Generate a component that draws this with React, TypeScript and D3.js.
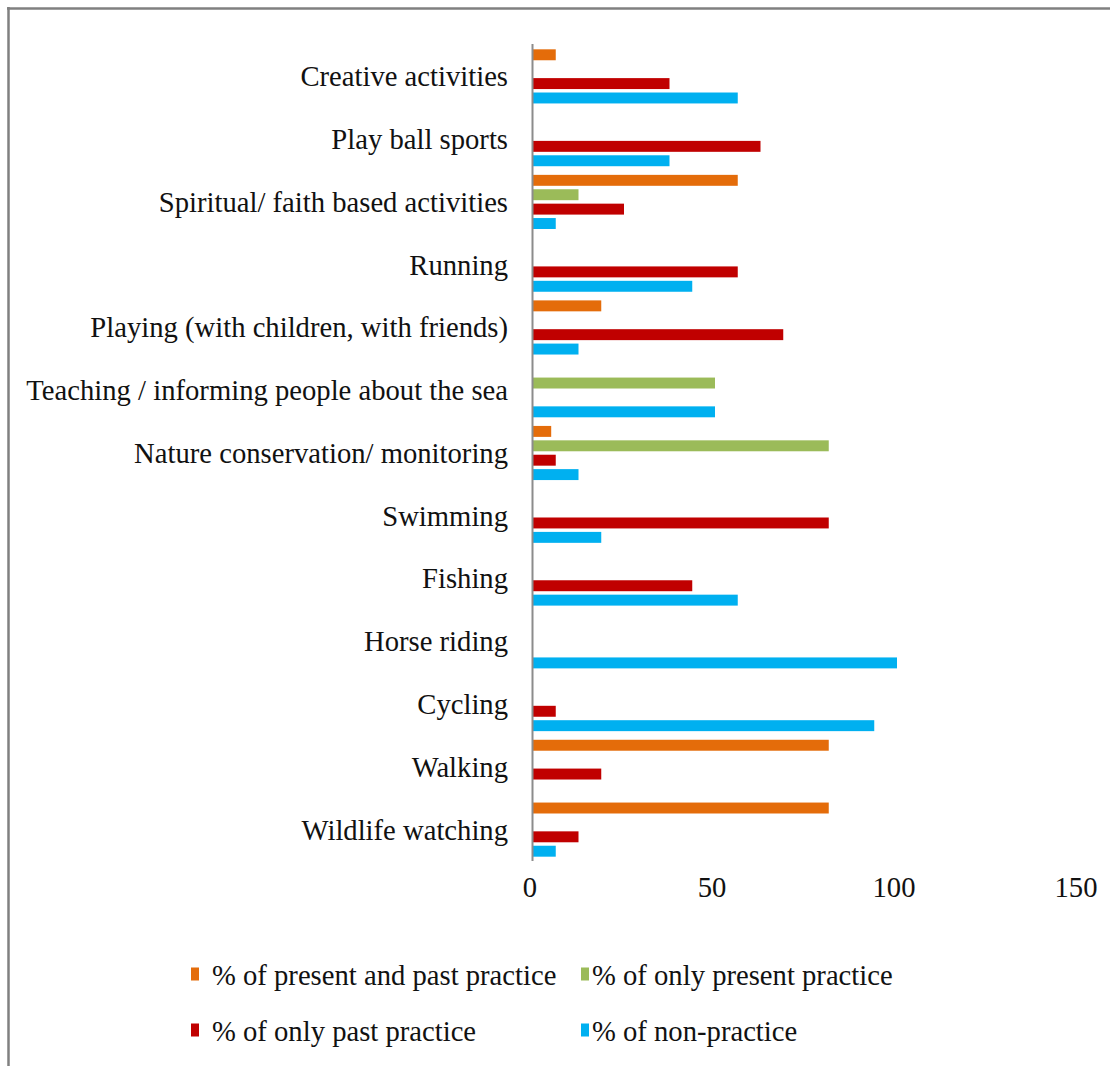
import React, { useEffect } from "react";
import * as d3 from "d3";

const categories = [
  "Creative activities",
  "Play ball sports",
  "Spiritual/ faith based activities",
  "Running",
  "Playing (with children, with friends)",
  "Teaching / informing people about the sea",
  "Nature conservation/ monitoring",
  "Swimming",
  "Fishing",
  "Horse riding",
  "Cycling",
  "Walking",
  "Wildlife watching",
];

const seriesNames = [
  "% of present and past practice",
  "% of only present practice",
  "% of only past practice",
  "% of non-practice",
];

const presentAndPast = [6.25, 0, 56.25, 0, 18.75, 0, 5, 0, 0, 0, 0, 81.25, 81.25];
const onlyPresent = [0, 0, 12.5, 0, 0, 50, 81.25, 0, 0, 0, 0, 0, 0];
const onlyPast = [37.5, 62.5, 25, 56.25, 68.75, 0, 6.25, 81.25, 43.75, 0, 6.25, 18.75, 12.5];
const nonPractice = [56.25, 37.5, 6.25, 43.75, 12.5, 50, 12.5, 18.75, 56.25, 100, 93.75, 0, 6.25];

const xTicks = [0, 50, 100, 150];
const colors = ["#E46C0A", "#9BBB59", "#C00000", "#00B0F0"];

const W = 1110;
const H = 1066;
const FONT = "'Liberation Serif', 'Times New Roman', serif";
const FS = 30;
const SX = 0.955;

export default function App() {
  useEffect(() => {
    document.body.style.margin = "0";
  }, []);

  const values = [presentAndPast, onlyPresent, onlyPast, nonPractice];

  const x = d3.scaleLinear().domain([0, 150]).range([533, 1079]);
  const y0 = d3.scaleBand<string>().domain(categories).range([45, 861]).padding(0);
  const y1 = d3
    .scaleBand<string>()
    .domain(seriesNames)
    .range([0, y0.bandwidth()])
    .paddingInner(0.24)
    .paddingOuter(0.3);

  const legendItems = [
    { i: 0, sx: 191, tx: 212, cy: 974 },
    { i: 1, sx: 581, tx: 592, cy: 974 },
    { i: 2, sx: 191, tx: 212, cy: 1030 },
    { i: 3, sx: 581, tx: 592, cy: 1030 },
  ];

  return (
    <svg width={W} height={H} style={{ display: "block", background: "#fff" }}>
      <rect x={0} y={0} width={W} height={H} fill="#fff" />
      {/* frame */}
      <line x1={7} x2={W} y1={8.5} y2={8.5} stroke="#808080" strokeWidth={2.5} />
      <line x1={8.5} x2={8.5} y1={7} y2={H} stroke="#808080" strokeWidth={2.5} />

      {/* bars */}
      {categories.map((c, ci) => (
        <g key={c} transform={`translate(0,${y0(c)})`}>
          {values.map((arr, si) =>
            arr[ci] > 0 ? (
              <rect
                key={si}
                x={x(0)}
                y={y1(seriesNames[si])}
                width={x(arr[ci]) - x(0)}
                height={y1.bandwidth()}
                fill={colors[si]}
              />
            ) : null
          )}
        </g>
      ))}

      {/* axis line */}
      <line x1={x(0) - 0.5} x2={x(0) - 0.5} y1={44} y2={861} stroke="#8c8c8c" strokeWidth={2} />

      {/* category labels */}
      {categories.map((c) => (
        <g key={c} transform={`translate(508,${(y0(c) as number) + y0.bandwidth() / 2}) scale(${SX},1)`}>
          <text x={0} y={0} dy="0.33em" textAnchor="end" fontFamily={FONT} fontSize={FS} fill="#111">
            {c}
          </text>
        </g>
      ))}

      {/* x tick labels */}
      {xTicks.map((t) => (
        <g key={t} transform={`translate(${x(t) - 3},886) scale(${SX},1)`}>
          <text textAnchor="middle" dy="0.35em" fontFamily={FONT} fontSize={FS} fill="#111">
            {t}
          </text>
        </g>
      ))}

      {/* legend */}
      {legendItems.map((it) => (
        <g key={it.i}>
          <rect x={it.sx} y={it.cy - 6.5} width={8} height={13} fill={colors[it.i]} />
          <g transform={`translate(${it.tx},${it.cy}) scale(${SX},1)`}>
            <text dy="0.35em" fontFamily={FONT} fontSize={FS} fill="#111">
              {seriesNames[it.i]}
            </text>
          </g>
        </g>
      ))}
    </svg>
  );
}
